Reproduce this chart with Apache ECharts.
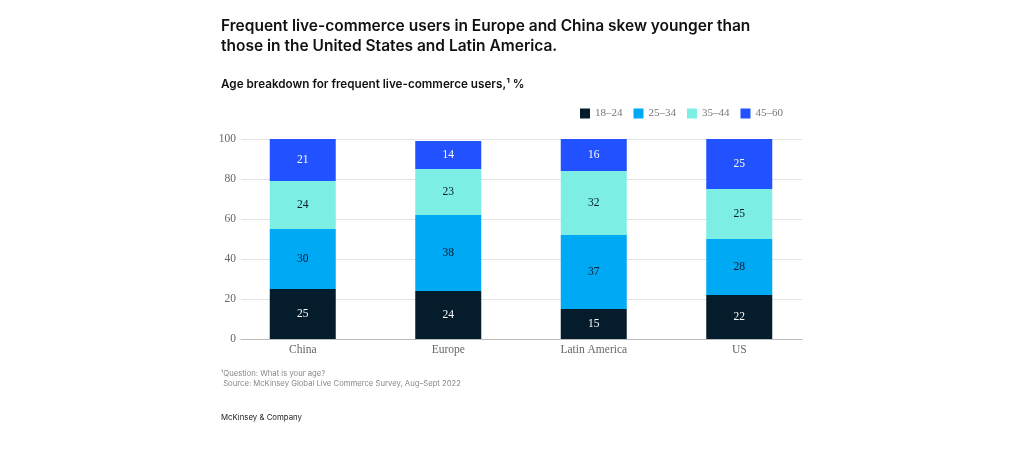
<!DOCTYPE html>
<html>
<head>
<meta charset="utf-8">
<script src="https://cdn.jsdelivr.net/npm/echarts@6/dist/echarts.min.js"></script>
<style>
  html, body { margin: 0; padding: 0; background: #fff; }
  #chart { width: 1024px; height: 463px; }
</style>
</head>
<body>
<div id="chart"></div>
<script>
const categories = ["China", "Europe", "Latin America", "US"];
const ageGroups = ["18–24", "25–34", "35–44", "45–60"];
const age18to24 = [25, 24, 15, 22];
const age25to34 = [30, 38, 37, 28];
const age35to44 = [24, 23, 32, 25];
const age45to60 = [21, 14, 16, 25];
const yTicks = [0, 20, 40, 60, 80, 100];

const colors = ["#051c2c", "#00a9f4", "#7ceee4", "#2251ff"];
const labelColors = ["#ffffff", "#051c2c", "#051c2c", "#ffffff"];
const serif = "'Liberation Serif', 'DejaVu Serif', serif";
const sans = "Inter, 'Liberation Sans', sans-serif";

const values = [age18to24, age25to34, age35to44, age45to60];

const chart = echarts.init(document.getElementById("chart"));

const option = {
  animation: false,
  color: colors,
  title: [
    {
      text: "Frequent live-commerce users in Europe and China skew younger than\nthose in the United States and Latin America.",
      left: 216,
      top: 11,
      textStyle: { fontFamily: sans, fontSize: 15.5, fontWeight: 600, color: "#111", lineHeight: 20 }
    },
    {
      text: "Age breakdown for frequent live-commerce users,¹ %",
      left: 216,
      top: 73,
      textStyle: { fontFamily: sans, fontSize: 11.7, fontWeight: 600, color: "#111" }
    },
    {
      text: "¹Question: What is your age?\n Source: McKinsey Global Live Commerce Survey, Aug–Sept 2022",
      left: 216,
      top: 363,
      textStyle: { fontFamily: sans, fontSize: 7.7, fontWeight: 400, color: "#888", lineHeight: 10.5 }
    },
    {
      text: "McKinsey & Company",
      left: 216,
      top: 409,
      textStyle: { fontFamily: sans, fontSize: 7.8, fontWeight: 400, color: "#222" }
    }
  ],
  legend: {
    data: ageGroups,
    left: 580,
    top: 108,
    padding: 0,
    icon: "rect",
    itemWidth: 10,
    itemHeight: 10,
    itemGap: 11,
    textStyle: { fontFamily: serif, fontSize: 11, color: "#777" }
  },
  grid: [
    { left: 230, right: 212, top: 139, bottom: 124 },
    { left: 241, right: 222, top: 139, bottom: 124 }
  ],
  xAxis: [
    {
      type: "category",
      gridIndex: 0,
      data: categories,
      axisLine: { show: false },
      axisTick: { show: false },
      axisLabel: { fontFamily: serif, fontSize: 11.5, color: "#666", margin: 5 }
    },
    {
      type: "category",
      gridIndex: 1,
      data: categories,
      axisLine: { lineStyle: { color: "#bbb" } },
      axisTick: { show: false },
      axisLabel: { show: false }
    }
  ],
  yAxis: [
    {
      type: "value",
      gridIndex: 0,
      min: yTicks[0],
      max: yTicks[yTicks.length - 1],
      interval: 20,
      show: false,
      splitLine: { show: false }
    },
    {
      type: "value",
      gridIndex: 1,
      min: yTicks[0],
      max: yTicks[yTicks.length - 1],
      interval: 20,
      axisLine: { show: false },
      axisTick: { show: false },
      splitLine: { lineStyle: { color: "#e3e3e3" } },
      axisLabel: { fontFamily: serif, fontSize: 11.5, color: "#666", margin: 5 }
    }
  ],
  series: ageGroups.map((name, i) => ({
    name: name,
    type: "bar",
    stack: "total",
    barWidth: 66,
    xAxisIndex: 0,
    yAxisIndex: 0,
    data: values[i],
    itemStyle: { color: colors[i] },
    label: {
      show: true,
      position: "inside",
      fontFamily: serif,
      fontSize: 11.5,
      color: labelColors[i]
    }
  }))
};

chart.setOption(option);
window.addEventListener("resize", () => chart.resize());
</script>
</body>
</html>
